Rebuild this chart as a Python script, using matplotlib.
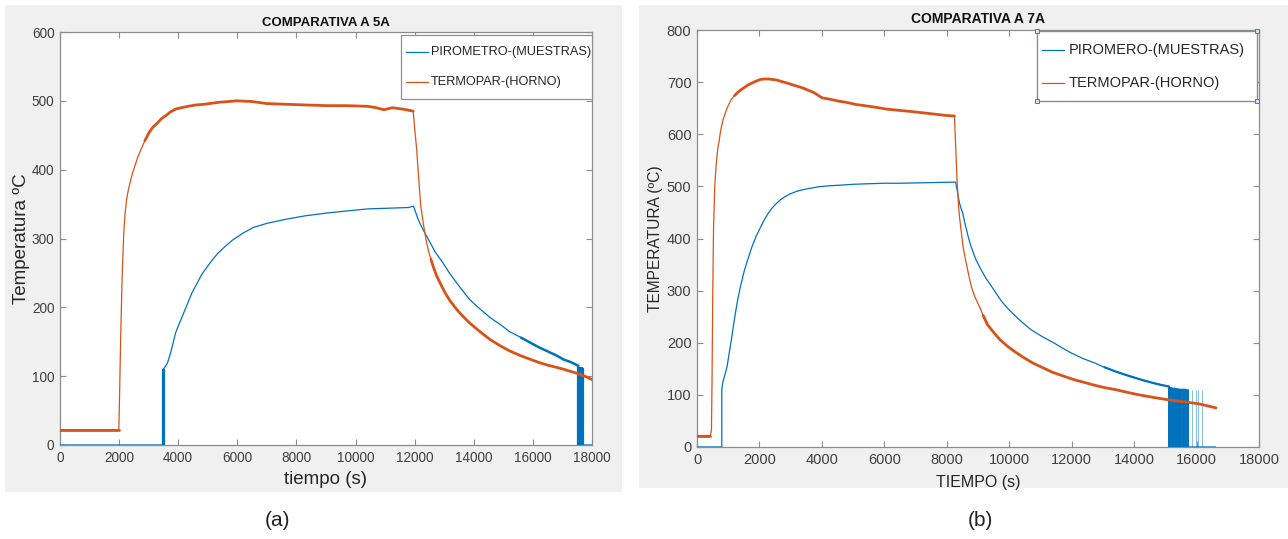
import matplotlib
matplotlib.use("Agg")
import matplotlib.pyplot as plt
from matplotlib.patches import Rectangle
from matplotlib.lines import Line2D

plt.rcParams['font.family'] = ['Liberation Sans', 'DejaVu Sans']

# ---------------- DATA: panel (a) 5A ----------------
a_term_t = [0, 1990, 2010, 2050, 2100, 2157, 2200, 2253, 2320, 2392, 2460, 2530, 2630, 2737,
            2870, 3014, 3150, 3300, 3430, 3564, 3740, 3912, 4100, 4327, 4600, 4880, 5400,
            5986, 6500, 7000, 7645, 8300, 9027, 9700, 10410, 10700, 10963, 11240, 11600,
            11950, 12000, 12069, 12140, 12207, 12280, 12345, 12410, 12480, 12550, 12621,
            12750, 12900, 13030, 13174, 13330, 13500, 13680, 13866, 14200, 14557, 14900,
            15200, 15570, 15940, 16200, 16500, 16780, 17046, 17500, 17750, 18000]
a_term_v = [22, 22, 60, 150, 240, 308, 335, 357, 372, 385, 396, 405, 418, 429,
            442, 454, 462, 468, 474, 478, 484, 488, 490, 492, 494, 495, 498,
            500, 499, 496, 495, 494, 493, 493, 492, 490, 487, 490, 488,
            485, 460, 429, 385, 347, 325, 308, 293, 280, 270, 260,
            245, 232, 221, 211, 202, 193, 185, 177, 165, 153, 144,
            137, 130, 124, 120, 116, 113, 110, 104, 100, 95]

a_pir_t = [0, 3500, 3500, 3530, 3636, 3750, 3912, 4050, 4188, 4330, 4465, 4650, 4800, 5000,
           5156, 5350, 5600, 5847, 6200, 6538, 7000, 7645, 8300, 9027, 9700, 10410, 11100,
           11792, 11960, 12100, 12200, 12345, 12500, 12700, 12950, 13174, 13500, 13866,
           14200, 14557, 14900, 15200, 15600, 15940, 16200, 16500, 16800, 17046, 17250,
           17400, 17540, 17540, 18000]
a_pir_v = [0, 0, 110, 112, 119, 135, 163, 178, 192, 207, 221, 236, 248, 260,
           269, 279, 289, 298, 308, 316, 322, 328, 333, 337, 340, 343, 344,
           345, 347, 330, 320, 308, 296, 280, 265, 250, 231, 211,
           198, 185, 175, 165, 156, 148, 142, 136, 130, 124, 121,
           118, 115, 0, 0]
a_drop_t = [3500, 3515, 17540, 17570, 17600, 17630, 17660, 17690]
a_drop_v = [110, 110, 115, 114, 114, 113, 113, 112]

# ---------------- DATA: panel (b) 7A ----------------
b_term_t = [0, 430, 463, 480, 503, 530, 569, 600, 634, 665, 701, 760, 834, 920, 1000, 1099,
            1200, 1300, 1400, 1496, 1620, 1750, 1900, 2025, 2150, 2300, 2554, 2720, 2900,
            3050, 3216, 3380, 3500, 3620, 3745, 3870, 4000, 4275, 4500, 4800, 5100, 5466,
            5800, 6100, 6450, 6790, 7100, 7400, 7700, 7981, 8246, 8270, 8285, 8310, 8330,
            8355, 8378, 8410, 8450, 8520, 8580, 8643, 8720, 8800, 8900, 9040, 9170, 9300,
            9500, 9701, 9950, 10200, 10480, 10760, 11080, 11400, 11740, 12084, 12400,
            12700, 13050, 13407, 13700, 14000, 14350, 14731, 15050, 15400, 15700, 16054,
            16350, 16623]
b_term_v = [22, 22, 33, 120, 283, 420, 500, 530, 555, 572, 584, 608, 628, 643, 655, 667,
            674, 680, 685, 689, 694, 698, 702, 705, 706, 706, 704, 701, 698,
            695, 692, 689, 686, 683, 680, 675, 670, 667, 664, 661, 657, 654,
            651, 648, 646, 644, 642, 640, 638, 636, 635, 600, 577, 540, 510,
            485, 462, 440, 420, 385, 365, 347, 325, 305, 288, 270, 252, 235,
            220, 206, 193, 182, 171, 161, 152, 143, 136, 129, 124,
            119, 114, 110, 106, 102, 98, 94, 91, 88, 86, 83,
            79, 75]

b_pir_t = [0, 794, 794, 830, 900, 966, 1030, 1100, 1165, 1231, 1310, 1400, 1510, 1628, 1760,
           1900, 2030, 2157, 2280, 2400, 2540, 2686, 2840, 3000, 3216, 3500, 3878, 4200,
           4500, 5000, 5466, 6000, 6500, 7300, 8113, 8285, 8340, 8400, 8450, 8510, 8570,
           8640, 8700, 8775, 8930, 9100, 9260, 9437, 9600, 9750, 9920, 10099, 10400, 10700,
           11050, 11422, 11700, 12000, 12350, 12746, 13050, 13400, 13750, 14069, 14350,
           14600, 14870, 15120, 15120, 16600]
b_pir_v = [0, 0, 110, 125, 140, 155, 180, 205, 232, 257, 285, 310, 337, 360, 384,
           405, 421, 436, 448, 458, 467, 475, 481, 486, 491, 495, 499, 501,
           502, 504, 505, 506, 506, 507, 508, 508, 490, 470, 459, 449, 432,
           415, 400, 385, 360, 340, 323, 308, 293, 280, 268, 257, 240, 225,
           212, 200, 190, 180, 170, 161, 153, 145, 138, 132, 127,
           123, 119, 116, 0, 0]
b_drop_t = [15130, 15160, 15190, 15230, 15260, 15300, 15330, 15370, 15400, 15440, 15480,
            15510, 15550, 15590, 15630, 15680, 15720]
b_drop_v = [114, 113, 113, 112, 112, 112, 111, 111, 111, 110, 110, 110, 110, 110, 110, 109, 109]
b_sparse_t = [15850, 15980, 16045, 16175]
b_sparse_v = [110, 110, 109, 109]

x_ticks = list(range(0, 18001, 2000))
a_y_ticks = list(range(0, 601, 100))
b_y_ticks = list(range(0, 801, 100))

BLUE = '#0072BD'
ORANGE = '#D95319'
PANEL = '#f0f0f0'
SPINE = '#8c8c8c'
TICKC = '#404040'

W, H = 1288, 539
fig = plt.figure(figsize=(W / 100, H / 100), dpi=100)
fig.patch.set_facecolor('white')


def fx(px):
    return px / W


def fy(py):
    return 1 - py / H


# grey panel backgrounds
fig.patches.append(Rectangle((fx(5), fy(492)), fx(622) - fx(5), fy(5) - fy(492),
                             transform=fig.transFigure, facecolor=PANEL, edgecolor='none', zorder=-5))
fig.patches.append(Rectangle((fx(639), fy(488)), fx(1288) - fx(639), fy(5) - fy(488),
                             transform=fig.transFigure, facecolor=PANEL, edgecolor='none', zorder=-5))


def make_axes(l, t, r, b):
    ax = fig.add_axes([fx(l), fy(b), fx(r) - fx(l), fy(t) - fy(b)])
    ax.set_facecolor('white')
    for s in ax.spines.values():
        s.set_color(SPINE)
        s.set_linewidth(0.9)
    ax.set_xlim(0, 18000)
    ax.set_xticks(x_ticks)
    ax.tick_params(direction='in', top=True, right=True, length=4, width=0.8,
                   color=SPINE, labelcolor=TICKC, pad=4)
    return ax


def slice_pts(t, v, t0, t1):
    tt, vv = [], []
    for a, b in zip(t, v):
        if t0 <= a <= t1:
            tt.append(a)
            vv.append(b)
    return tt, vv


THICK = dict(solid_capstyle='round', solid_joinstyle='round')

# ---------------- panel (a) ----------------
axA = make_axes(60, 32, 592, 445)
axA.set_ylim(0, 600)
axA.set_yticks(a_y_ticks)
axA.tick_params(labelsize=9.8)
axA.plot(a_pir_t, a_pir_v, color=BLUE, lw=0.9, zorder=3)
axA.vlines(a_drop_t, 0, a_drop_v, color=BLUE, lw=1.6, zorder=3)
tt, vv = slice_pts(a_pir_t, a_pir_v, 15600, 17540)
axA.plot(tt[:-1], vv[:-1], color=BLUE, lw=1.8, zorder=3, **THICK)
axA.plot(a_term_t, a_term_v, color=ORANGE, lw=0.9, zorder=4)
tt, vv = slice_pts(a_term_t, a_term_v, 0, 1990)
axA.plot(tt, vv, color=ORANGE, lw=2.0, zorder=4, **THICK)
tt, vv = slice_pts(a_term_t, a_term_v, 2870, 11950)
axA.plot(tt, vv, color=ORANGE, lw=2.0, zorder=4, **THICK)
tt, vv = slice_pts(a_term_t, a_term_v, 12550, 18000)
axA.plot(tt, vv, color=ORANGE, lw=2.0, zorder=4, **THICK)
axA.set_title('COMPARATIVA A 5A', fontsize=9.5, fontweight='bold', color='#111111', pad=4)
axA.set_xlabel('tiempo (s)', fontsize=13.5, color='#262626', labelpad=5)
axA.set_ylabel('Temperatura ºC', fontsize=13.5, color='#262626', labelpad=1)

# legend (a), drawn in figure pixels
fig.patches.append(Rectangle((fx(401), fy(99)), fx(592) - fx(401), fy(35) - fy(99),
                             transform=fig.transFigure, facecolor='white', edgecolor='#909090',
                             lw=0.9, zorder=5))
fig.lines.append(Line2D([fx(406), fx(428)], [fy(52), fy(52)], transform=fig.transFigure,
                        color=BLUE, lw=0.9, zorder=6))
fig.lines.append(Line2D([fx(406), fx(428)], [fy(82), fy(82)], transform=fig.transFigure,
                        color=ORANGE, lw=0.9, zorder=6))
fig.text(fx(431), fy(52), 'PIROMETRO-(MUESTRAS)', fontsize=9.2, color='#262626',
         va='center', ha='left', zorder=7)
fig.text(fx(431), fy(82), 'TERMOPAR-(HORNO)', fontsize=9.2, color='#262626',
         va='center', ha='left', zorder=7)

# ---------------- panel (b) ----------------
axB = make_axes(697, 30, 1259, 447)
axB.set_ylim(0, 800)
axB.set_yticks(b_y_ticks)
axB.tick_params(labelsize=10.5)
axB.plot(b_pir_t, b_pir_v, color=BLUE, lw=0.9, zorder=3)
tt, vv = slice_pts(b_pir_t, b_pir_v, 13050, 15120)
axB.plot(tt[:-1], vv[:-1], color=BLUE, lw=1.6, zorder=3, **THICK)
axB.vlines(b_drop_t, 0, b_drop_v, color=BLUE, lw=1.4, zorder=3)
axB.vlines(b_sparse_t, 0, b_sparse_v, color=BLUE, lw=0.8, alpha=0.45, zorder=3)
axB.plot(b_drop_t, b_drop_v, color=BLUE, lw=1.4, zorder=3)
axB.plot(b_term_t, b_term_v, color=ORANGE, lw=0.9, zorder=4)
tt, vv = slice_pts(b_term_t, b_term_v, 0, 430)
axB.plot(tt, vv, color=ORANGE, lw=2.0, zorder=4, **THICK)
tt, vv = slice_pts(b_term_t, b_term_v, 1200, 8246)
axB.plot(tt, vv, color=ORANGE, lw=2.0, zorder=4, **THICK)
tt, vv = slice_pts(b_term_t, b_term_v, 9170, 16623)
axB.plot(tt, vv, color=ORANGE, lw=2.0, zorder=4, **THICK)
axB.set_title('COMPARATIVA A 7A', fontsize=10, fontweight='bold', color='#111111', pad=5)
axB.set_xlabel('TIEMPO (s)', fontsize=11.5, color='#262626', labelpad=6)
axB.set_ylabel('TEMPERATURA (ºC)', fontsize=11.2, color='#262626', labelpad=3)

# legend (b)
fig.patches.append(Rectangle((fx(1037), fy(101)), fx(1257) - fx(1037), fy(31) - fy(101),
                             transform=fig.transFigure, facecolor='white', edgecolor='#8c8c8c',
                             lw=1.0, zorder=5))
fig.lines.append(Line2D([fx(1042), fx(1064)], [fy(50), fy(50)], transform=fig.transFigure,
                        color=BLUE, lw=0.9, zorder=6))
fig.lines.append(Line2D([fx(1042), fx(1064)], [fy(83), fy(83)], transform=fig.transFigure,
                        color=ORANGE, lw=0.9, zorder=6))
fig.text(fx(1069), fy(50), 'PIROMERO-(MUESTRAS)', fontsize=10.5, color='#262626',
         va='center', ha='left', zorder=7)
fig.text(fx(1069), fy(83), 'TERMOPAR-(HORNO)', fontsize=10.5, color='#262626',
         va='center', ha='left', zorder=7)
for cx, cy in [(1037, 31), (1257, 31), (1037, 101), (1257, 101)]:
    fig.lines.append(Line2D([fx(cx)], [fy(cy)], transform=fig.transFigure, marker='s',
                            markersize=3.5, markerfacecolor='#cfe3f5', markeredgecolor='#3d7fc1',
                            markeredgewidth=0.7, linestyle='none', zorder=8))

# sub-figure labels
fig.text(fx(277), fy(521), '(a)', fontsize=15, color='#222222', ha='center', va='center')
fig.text(fx(980), fy(521), '(b)', fontsize=15, color='#222222', ha='center', va='center')

fig.savefig('out.png', dpi=100)
